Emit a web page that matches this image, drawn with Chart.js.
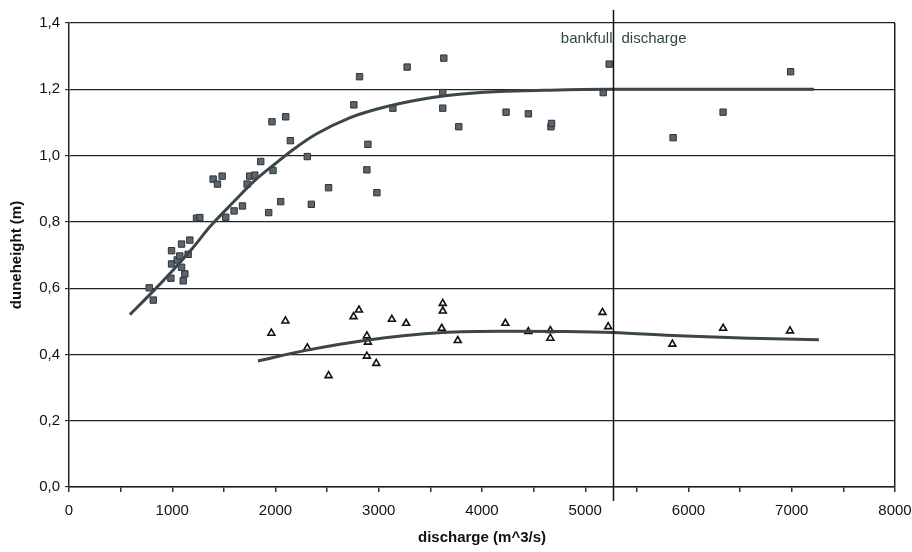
<!DOCTYPE html>
<html>
<head>
<meta charset="utf-8">
<script src="https://cdn.jsdelivr.net/npm/chart.js@4.4.0/dist/chart.umd.min.js"></script>
<style>
  html, body { margin: 0; padding: 0; background: #fff; }
  #wrap { width: 912px; height: 552px; }
</style>
</head>
<body>
<div id="wrap"><canvas id="dunechart" width="912" height="552"></canvas></div>
<script>
// measured dune heights (squares)
var qSquare = [777, 816, 987, 993, 993, 1048, 1073, 1090, 1090, 1106, 1122, 1154, 1170, 1235, 1267,
    1396, 1438, 1483, 1518, 1599, 1680, 1725, 1750, 1799, 1857, 1934, 1966, 1976, 2050, 2099, 2144,
    2308, 2347, 2514, 2759, 2814, 2885, 2895, 2982, 3137, 3275, 3620, 3620, 3630, 3775, 4233, 4449,
    4668, 4674, 5174, 5232, 5851, 6335, 6989];
var hSquare = [0.601, 0.564, 0.630, 0.673, 0.713, 0.685, 0.697, 0.663, 0.733, 0.622, 0.643, 0.702, 0.745, 0.811, 0.813,
    0.929, 0.914, 0.938, 0.814, 0.833, 0.848, 0.914, 0.938, 0.941, 0.982, 0.828, 1.102, 0.955, 0.861, 1.117, 1.045,
    0.997, 0.853, 0.903, 1.153, 1.238, 0.957, 1.034, 0.888, 1.143, 1.267, 1.190, 1.143, 1.294, 1.087, 1.131, 1.126,
    1.087, 1.097, 1.190, 1.276, 1.054, 1.131, 1.253];

// second series (triangles)
var qTriangle = [1960, 2096, 2308, 2514, 2756, 2808, 2885, 2895, 2885, 2976, 3127, 3265, 3620, 3620, 3610,
    3765, 4226, 4449, 4662, 4662, 5167, 5222, 5844, 6335, 6983];
var hTriangle = [0.464, 0.501, 0.420, 0.336, 0.514, 0.534, 0.456, 0.437, 0.395, 0.373, 0.506, 0.494, 0.554, 0.531, 0.479,
    0.442, 0.494, 0.469, 0.472, 0.449, 0.527, 0.484, 0.431, 0.479, 0.471];

// trend lines
var qTrendUpper = [590, 825, 1000, 1200, 1364, 1600, 1800, 2000, 2166, 2395, 2718, 3040, 3362, 3685, 4168, 4600, 5200, 6000, 6600, 7215];
var hTrendUpper = [0.52, 0.594, 0.652, 0.722, 0.785, 0.862, 0.925, 0.976, 1.017, 1.065, 1.114, 1.145, 1.167, 1.182, 1.193, 1.197, 1.2, 1.2, 1.2, 1.2];
var qTrendLower = [1830, 2308, 2879, 3620, 4200, 4800, 5264, 5909, 6600, 7263];
var hTrendLower = [0.380, 0.413, 0.443, 0.466, 0.470, 0.469, 0.466, 0.456, 0.449, 0.444];

var bankfull = 5270;
var yTicks = [0, 0.2, 0.4, 0.6, 0.8, 1.0, 1.2, 1.4];

function pts(xs, ys) {
    return xs.map(function (x, i) { return { x: x, y: ys[i] }; });
}

var bankfullPlugin = {
    id: 'bankfull',
    afterDatasetsDraw: function (chart) {
        var ctx = chart.ctx;
        var area = chart.chartArea;
        var x = Math.round(chart.scales.x.getPixelForValue(bankfull)) + 0.5;
        ctx.save();
        ctx.strokeStyle = '#111';
        ctx.lineWidth = 1.5;
        ctx.beginPath();
        ctx.moveTo(x, area.top - 13);
        ctx.lineTo(x, area.bottom + 14);
        ctx.stroke();
        ctx.fillStyle = '#2c4a3a';
        ctx.font = '15px "Liberation Sans", Arial, sans-serif';
        ctx.textBaseline = 'middle';
        ctx.textAlign = 'right';
        ctx.fillText('bankfull', x - 1, area.top + 16);
        ctx.textAlign = 'left';
        ctx.fillText('discharge', x + 8, area.top + 16);
        ctx.restore();
    }
};

var tickFont = { family: '"Liberation Sans", Arial, sans-serif', size: 15 };
var titleFont = { family: '"Liberation Sans", Arial, sans-serif', size: 15, weight: 'bold' };

var chart1 = document.getElementById('dunechart');
var myChart1 = new Chart(chart1, {
    type: 'scatter',
    data: {
        datasets: [{
            type: 'line',
            data: pts(qTrendUpper, hTrendUpper),
            borderColor: '#3b4646',
            borderWidth: 3,
            pointRadius: 0,
            cubicInterpolationMode: 'monotone',
            fill: false,
            order: 1
        }, {
            type: 'line',
            data: pts(qTrendLower, hTrendLower),
            borderColor: '#3b4646',
            borderWidth: 3,
            pointRadius: 0,
            cubicInterpolationMode: 'monotone',
            fill: false,
            order: 2
        }, {
            data: pts(qSquare, hSquare),
            pointStyle: 'rect',
            pointRadius: 4.5,
            backgroundColor: '#5b6570',
            borderColor: '#2e3339',
            borderWidth: 1,
            order: 3
        }, {
            data: pts(qTriangle, hTriangle),
            pointStyle: 'triangle',
            pointRadius: 4,
            backgroundColor: '#fff',
            borderColor: '#111',
            borderWidth: 1.6,
            order: 4
        }]
    },
    options: {
        responsive: false,
        animation: false,
        layout: { padding: { top: 23, right: 17, left: 0, bottom: 3 } },
        plugins: {
            legend: { display: false },
            tooltip: { enabled: false }
        },
        scales: {
            x: {
                type: 'linear',
                min: 0,
                max: 8000,
                afterFit: function (s) { s.height = 62; s.paddingLeft = 0; s.paddingRight = 0; },
                ticks: {
                    stepSize: 500,
                    autoSkip: false,
                    maxRotation: 0,
                    padding: 10,
                    color: '#111',
                    font: tickFont,
                    callback: function (v) { return v % 1000 === 0 ? String(v) : ''; }
                },
                grid: {
                    drawOnChartArea: true,
                    color: function (c) { return c.tick && c.tick.value === 8000 ? '#222' : 'rgba(0,0,0,0)'; },
                    tickColor: '#333',
                    tickLength: 5,
                    lineWidth: 1.5
                },
                border: { color: '#222', width: 1.5 },
                title: {
                    display: true,
                    text: 'discharge (m^3/s)',
                    color: '#111',
                    padding: { top: 0, bottom: 2 },
                    font: titleFont
                }
            },
            y: {
                min: 0,
                max: 1.4,
                afterFit: function (s) { s.width = 69; s.paddingTop = 0; s.paddingBottom = 0; },
                afterBuildTicks: function (s) { s.ticks = yTicks.map(function (v) { return { value: v }; }); },
                ticks: {
                    padding: 5,
                    color: '#111',
                    font: tickFont,
                    callback: function (v) { return v.toFixed(1).replace('.', ','); }
                },
                grid: {
                    color: '#222',
                    lineWidth: 1.2,
                    tickColor: '#333',
                    tickLength: 4
                },
                border: { color: '#222', width: 1.5 },
                title: {
                    display: true,
                    text: 'duneheight (m)',
                    color: '#111',
                    padding: { top: 8, bottom: 0 },
                    font: titleFont
                }
            }
        }
    },
    plugins: [bankfullPlugin]
});
</script>
</body>
</html>
